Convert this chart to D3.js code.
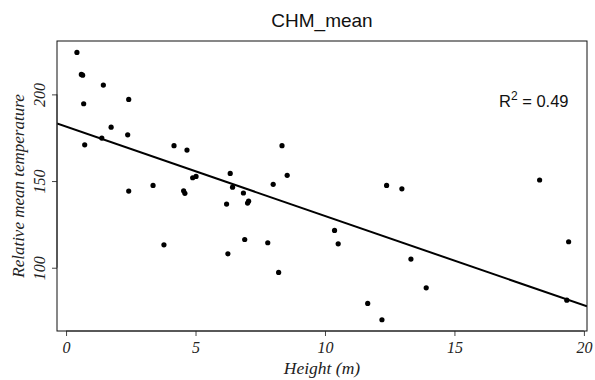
<!DOCTYPE html>
<html>

<head>
  <meta charset="UTF-8">
  <title>CHM_mean</title>
  <style>
    body{
      margin: 0;
      background-color: #FFFFFF;
    }
    .title, .r2{
      font-family: 'Liberation Sans', Arial, sans-serif;
      fill: #111;
    }
    .lab, .tick text{
      font-family: 'Liberation Serif', 'Times New Roman', serif;
      font-style: italic;
      fill: #222;
    }
    .tick line, .domain{
      stroke: #444;
    }
  </style>
</head>

<body>

  <div id="container"></div>

  <script src="https://d3js.org/d3.v7.min.js"></script>

  <script>

  // data
  var height_m = [0.42, 0.59, 0.64, 1.44, 0.68, 2.42, 1.74, 1.38, 2.38, 0.72,
                  4.17, 4.67, 6.34, 4.89, 5.02, 8.00, 8.54, 8.34, 2.42, 3.36,
                  4.54, 4.59, 6.43, 6.85, 6.20, 7.05, 7.01, 3.78, 6.25, 6.90,
                  7.79, 8.21, 12.38, 12.97, 18.29, 10.37, 10.51, 19.41, 13.32, 13.91,
                  11.65, 12.20, 19.34];
  var rel_temp = [224.2, 211.5, 211.1, 205.4, 194.6, 197.1, 181.1, 174.8, 176.7, 170.9,
                  170.4, 167.9, 154.4, 151.9, 152.7, 148.1, 153.3, 170.4, 144.2, 147.5,
                  144.4, 142.9, 146.5, 143.1, 136.7, 138.4, 137.3, 113.2, 108.0, 116.3,
                  114.4, 97.3, 147.5, 145.5, 150.6, 121.5, 113.8, 115.0, 105.0, 88.4,
                  79.4, 70.0, 81.3];
  var x_ticks = [0, 5, 10, 15, 20];
  var y_ticks = [100, 150, 200];
  var r2_label = "0.49";

  var W = 595, H = 380;
  var pL = 57, pR = 587, pT = 41, pB = 331;

  var x = d3.scaleLinear().domain([-0.35, 20.12]).range([pL, pR]);
  var y = d3.scaleLinear().domain([63.5, 230.8]).range([pB, pT]);

  var svg = d3.select("#container").append("svg")
      .attr("width", W)
      .attr("height", H)
      .style("display", "block");

  svg.append("rect").attr("width", W).attr("height", H).attr("fill", "#fff");

  // least squares fit
  var mx = d3.mean(height_m), my = d3.mean(rel_temp);
  var sxy = d3.sum(height_m, function(d, i) { return (d - mx) * (rel_temp[i] - my); });
  var sxx = d3.sum(height_m, function(d) { return (d - mx) * (d - mx); });
  var slope = sxy / sxx, icpt = my - slope * mx;

  svg.append("clipPath").attr("id", "clip")
    .append("rect").attr("x", pL).attr("y", pT)
    .attr("width", pR - pL).attr("height", pB - pT);

  // points
  svg.append("g")
    .selectAll("circle")
    .data(height_m)
    .enter().append("circle")
      .attr("cx", function(d) { return x(d); })
      .attr("cy", function(d, i) { return y(rel_temp[i]); })
      .attr("r", 2.6)
      .attr("fill", "#000");

  // fit line
  var xd = x.domain();
  svg.append("line")
    .attr("clip-path", "url(#clip)")
    .attr("x1", x(xd[0])).attr("y1", y(icpt + slope * xd[0]))
    .attr("x2", x(xd[1])).attr("y2", y(icpt + slope * xd[1]))
    .attr("stroke", "#000")
    .attr("stroke-width", 2);

  // axes
  var xAxis = svg.append("g")
    .attr("transform", "translate(0," + pB + ")")
    .call(d3.axisBottom(x).tickValues(x_ticks).tickSize(5).tickPadding(6).tickSizeOuter(0));
  xAxis.select(".domain").attr("d", "M" + x(0) + ",0H" + x(20));
  xAxis.selectAll("text").style("font-size", "16px").attr("dy", "0.71em");

  var yAxis = svg.append("g")
    .attr("transform", "translate(" + pL + ",0)")
    .call(d3.axisLeft(y).tickValues(y_ticks).tickSize(5).tickSizeOuter(0));
  yAxis.select(".domain").attr("d", "M0," + y(100) + "V" + y(200));
  yAxis.selectAll("text")
    .style("font-size", "16px")
    .attr("x", null).attr("dy", null)
    .attr("text-anchor", "middle")
    .attr("transform", "translate(-12,0) rotate(-90)");

  // box
  svg.append("rect")
    .attr("x", pL).attr("y", pT)
    .attr("width", pR - pL).attr("height", pB - pT)
    .attr("fill", "none")
    .attr("stroke", "#111");

  // labels
  svg.append("text").attr("class", "title")
    .attr("x", (pL + pR) / 2).attr("y", 27)
    .attr("text-anchor", "middle")
    .style("font-size", "19px")
    .text("CHM_mean");

  svg.append("text").attr("class", "lab")
    .attr("x", (pL + pR) / 2).attr("y", 374)
    .attr("text-anchor", "middle")
    .style("font-size", "17.5px")
    .text("Height (m)");

  svg.append("text").attr("class", "lab")
    .attr("transform", "translate(24," + (pT + pB) / 2 + ") rotate(-90)")
    .attr("text-anchor", "middle")
    .style("font-size", "17px")
    .text("Relative mean temperature");

  var r2 = svg.append("text").attr("class", "r2")
    .attr("x", 499).attr("y", 107)
    .style("font-size", "16.5px");
  r2.append("tspan").text("R");
  r2.append("tspan").attr("dy", -7).style("font-size", "12px").text("2");
  r2.append("tspan").attr("dy", 7).text(" = " + r2_label);

  </script>
</body>
</html>
